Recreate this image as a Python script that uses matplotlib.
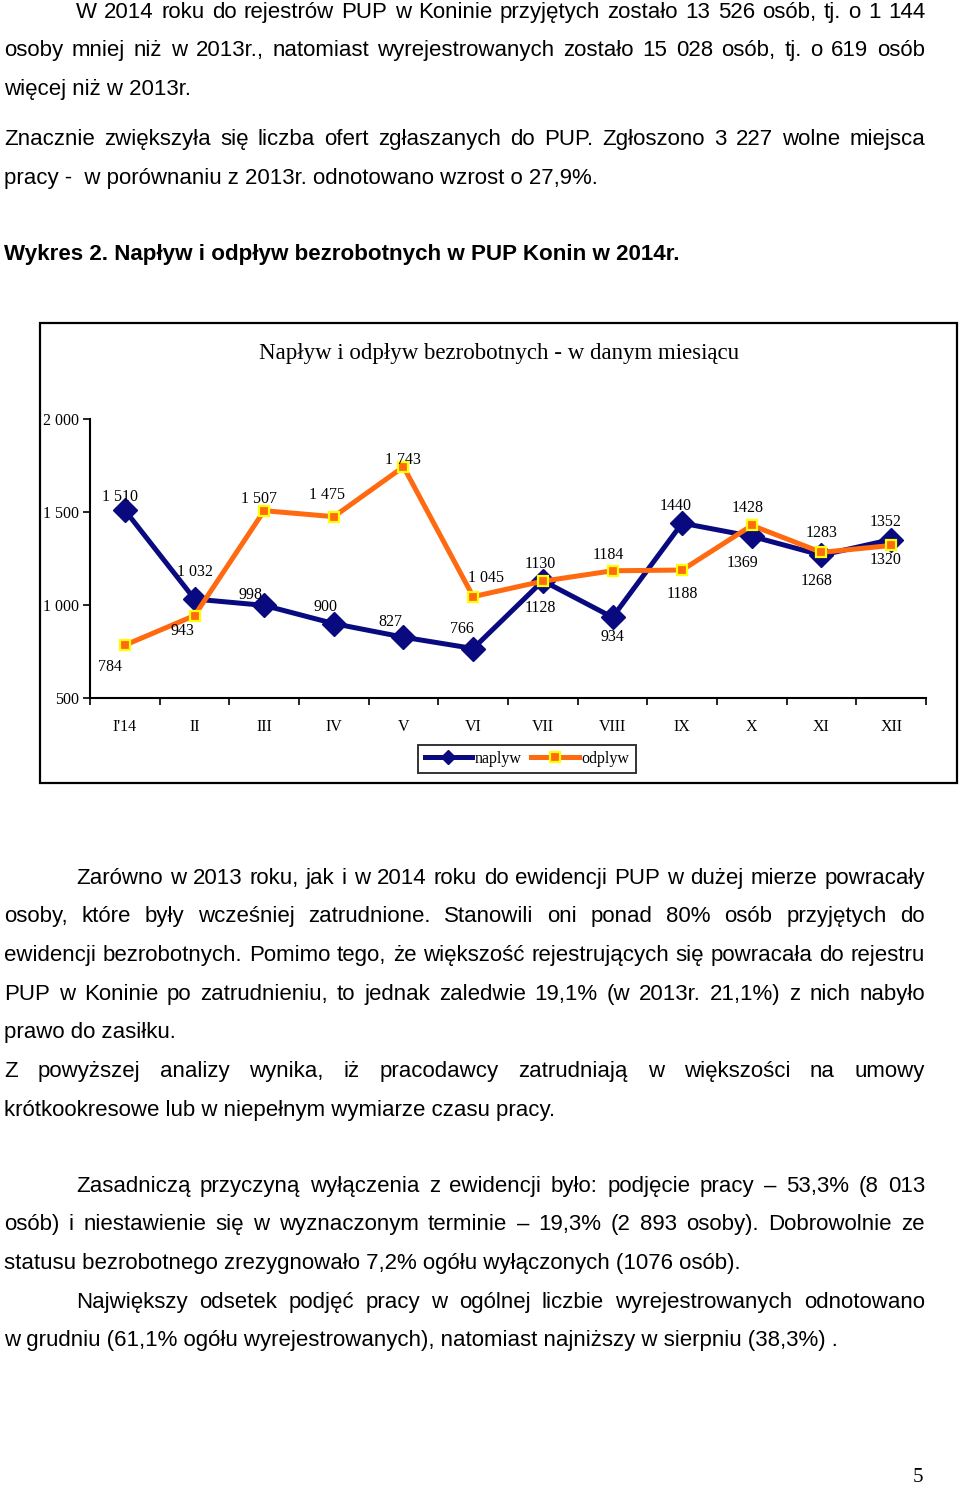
import matplotlib
matplotlib.use('Agg')
import matplotlib.pyplot as plt
from matplotlib.patches import Rectangle
from matplotlib.lines import Line2D

# ---------------- data ----------------
months = ["I'14", "II", "III", "IV", "V", "VI", "VII", "VIII", "IX", "X", "XI", "XII"]
naplyw = [1510, 1032, 998, 900, 827, 766, 1130, 934, 1440, 1369, 1268, 1352]
odplyw = [784, 943, 1507, 1475, 1743, 1045, 1128, 1184, 1188, 1428, 1283, 1320]
y_ticks = [500, 1000, 1500, 2000]
y_tick_labels = ["500", "1 000", "1 500", "2 000"]
legend_labels = ["naplyw", "odplyw"]
chart_title = "Napływ i odpływ bezrobotnych - w danym miesiącu"

# label offsets in pixels (dx right, dy down) relative to each point
nap_off = [(-5, -13), (0, -27), (-14, -10), (-8, -17), (-13, -15), (-11, -20),
           (-3, -17), (0, 20), (-7, -17), (-9, 27), (-5, 26), (-6, -18)]
odp_off = [(-15, 22), (-12, 15), (-5, -12), (-7, -22), (-1, -7), (13, -19),
           (-3, 27), (-4, -16), (0, 24), (-4, -17), (0, -19), (-6, 15)]

NAVY = '#0A0A80'
ORANGE = '#FF6A10'
YELLOW = '#FFFF00'

W, H = 960, 1487
fig = plt.figure(figsize=(W / 100, H / 100), dpi=100)
fig.patch.set_facecolor('white')
renderer = fig.canvas.get_renderer()

SANS = 'Liberation Sans'
SERIF = 'Liberation Serif'


def fx(x):
    return x / W


def fy(y):
    return 1 - y / H


def twidth(s, size, weight='normal', family=SANS):
    t = fig.text(0, 0, s, fontsize=size, fontweight=weight, family=family)
    w = t.get_window_extent(renderer=renderer).width
    t.remove()
    return w


# fit body font size to a measured unjustified line
fit_line = "pracy -  w porównaniu z 2013r. odnotowano wzrost o 27,9%."
BODY = 14 * 597 / twidth(fit_line, 14)
bold_line = "Wykres 2. Napływ i odpływ bezrobotnych w PUP Konin w 2014r."
BOLD = 14 * 676 / twidth(bold_line, 14, 'bold')
TITLE = 14 * 482 / twidth(chart_title, 14, family=SERIF)

LEFT, RIGHT, INDENT = 4, 925, 76


def put_line(s, base, x0, justify=True, weight='normal', size=None):
    size = size or BODY
    if not justify:
        fig.text(fx(x0), fy(base), s, fontsize=size, fontweight=weight,
                 family=SANS, ha='left', va='baseline', color='black')
        return
    words = s.split()
    widths = [twidth(w, size, weight) for w in words]
    gap = (RIGHT - x0 - sum(widths)) / (len(words) - 1)
    x = x0
    for w, wd in zip(words, widths):
        fig.text(fx(x), fy(base), w, fontsize=size, fontweight=weight,
                 family=SANS, ha='left', va='baseline', color='black')
        x += wd + gap


lines_top = [
    ("W 2014 roku do rejestrów PUP w Koninie przyjętych zostało 13 526 osób,  tj. o 1 144", 18, INDENT, True),
    ("osoby mniej niż  w 2013r., natomiast wyrejestrowanych zostało 15 028 osób, tj.  o  619 osób", 56, LEFT, True),
    ("więcej niż w 2013r.", 95, LEFT, False),
    ("Znacznie zwiększyła się liczba ofert zgłaszanych do PUP. Zgłoszono 3 227 wolne miejsca", 145, LEFT, True),
    ("pracy -  w porównaniu z 2013r. odnotowano wzrost o 27,9%.", 184, LEFT, False),
]
for s, b, x0, j in lines_top:
    put_line(s, b, x0, j)
put_line(bold_line, 260, LEFT, False, weight='bold', size=BOLD)

lines_bottom = [
    ("Zarówno w  2013 roku, jak i w 2014 roku do ewidencji PUP w dużej mierze powracały", 884, INDENT, True),
    ("osoby, które były wcześniej zatrudnione. Stanowili oni ponad 80% osób przyjętych do", 922, LEFT, True),
    ("ewidencji bezrobotnych. Pomimo tego, że większość rejestrujących się powracała do rejestru", 961, LEFT, True),
    ("PUP w Koninie po zatrudnieniu, to jednak zaledwie 19,1% (w 2013r. 21,1%) z nich nabyło", 1000, LEFT, True),
    ("prawo do zasiłku.", 1038, LEFT, False),
    ("Z powyższej analizy wynika, iż pracodawcy zatrudniają w większości na umowy", 1077, LEFT, True),
    ("krótkookresowe lub w niepełnym wymiarze czasu pracy.", 1116, LEFT, False),
    ("Zasadniczą przyczyną wyłączenia z ewidencji było: podjęcie pracy – 53,3% (8 013", 1192, INDENT, True),
    ("osób) i niestawienie się w wyznaczonym terminie – 19,3% (2 893 osoby). Dobrowolnie ze", 1230, LEFT, True),
    ("statusu bezrobotnego zrezygnowało 7,2% ogółu wyłączonych (1076 osób).", 1269, LEFT, False),
    ("Największy odsetek podjęć pracy w ogólnej liczbie wyrejestrowanych odnotowano", 1308, INDENT, True),
    ("w grudniu (61,1% ogółu wyrejestrowanych), natomiast najniższy w sierpniu (38,3%) .", 1346, LEFT, False),
]
for s, b, x0, j in lines_bottom:
    put_line(s, b, x0, j)

# page number
fig.text(fx(918), fy(1477), "5", fontsize=15, family=SERIF, ha='center', va='center')

# ---------------- chart ----------------
fig.add_artist(Rectangle((fx(40), fy(783)), (957 - 40) / W, (783 - 323) / H,
                         transform=fig.transFigure, fill=False, ec='black', lw=1.6))
fig.text(fx(499), fy(353), chart_title, fontsize=TITLE, family=SERIF,
         ha='center', va='center')

ax = fig.add_axes([fx(90), fy(698), (926 - 90) / W, (698 - 419) / H])
ax.set_facecolor('none')
x = list(range(len(months)))
l1, = ax.plot(x, naplyw, color=NAVY, lw=3.6, marker='D', ms=12,
              mfc=NAVY, mec=NAVY, zorder=3, clip_on=False)
l2, = ax.plot(x, odplyw, color=ORANGE, lw=3.6, marker='s', ms=7.5,
              mfc=ORANGE, mec=YELLOW, mew=1.6, zorder=4, clip_on=False)

LBL = 11.5


def fmt(v, i):
    if i < 6:
        return f"{v:,}".replace(",", " ")
    return str(v)


for i, v in enumerate(naplyw):
    dx, dy = nap_off[i]
    ax.annotate(fmt(v, i), (i, v), xytext=(dx, -dy), textcoords='offset pixels',
                ha='center', va='center', fontsize=LBL, family=SERIF, zorder=6)
for i, v in enumerate(odplyw):
    dx, dy = odp_off[i]
    ax.annotate(fmt(v, i), (i, v), xytext=(dx, -dy), textcoords='offset pixels',
                ha='center', va='center', fontsize=LBL, family=SERIF, zorder=6)

ax.set_xlim(-0.5, len(months) - 0.5)
ax.set_ylim(500, 2000)
for sp in ['top', 'right']:
    ax.spines[sp].set_visible(False)
for sp in ['left', 'bottom']:
    ax.spines[sp].set_linewidth(1.5)
    ax.spines[sp].set_color('black')

ax.set_yticks(y_ticks)
ax.set_yticklabels(y_tick_labels, family=SERIF, fontsize=LBL)
ax.tick_params(axis='y', direction='out', length=5, width=1.2, pad=3)

ax.set_xticks([i - 0.5 for i in range(len(months) + 1)])
ax.set_xticklabels([])
ax.set_xticks(x, minor=True)
ax.set_xticklabels(months, minor=True, family=SERIF, fontsize=LBL)
ax.tick_params(axis='x', which='major', direction='out', length=5, width=1.2)
ax.tick_params(axis='x', which='minor', length=0, pad=15)

h1 = Line2D([], [], color=NAVY, lw=3.6, marker='D', ms=7, mfc=NAVY, mec=NAVY)
h2 = Line2D([], [], color=ORANGE, lw=3.6, marker='s', ms=7, mfc=ORANGE, mec=YELLOW, mew=1.6)
leg = fig.legend([h1, h2], legend_labels, loc='center',
                 bbox_to_anchor=(fx(527), fy(759)), ncol=2, frameon=True,
                 fancybox=False, prop={'family': SERIF, 'size': LBL},
                 handlelength=3.0, handletextpad=0.15, columnspacing=0.6,
                 borderpad=0.4, borderaxespad=0)
leg.get_frame().set_edgecolor('black')
leg.get_frame().set_linewidth(1.4)

fig.savefig('out.png', dpi=100, facecolor='white')
